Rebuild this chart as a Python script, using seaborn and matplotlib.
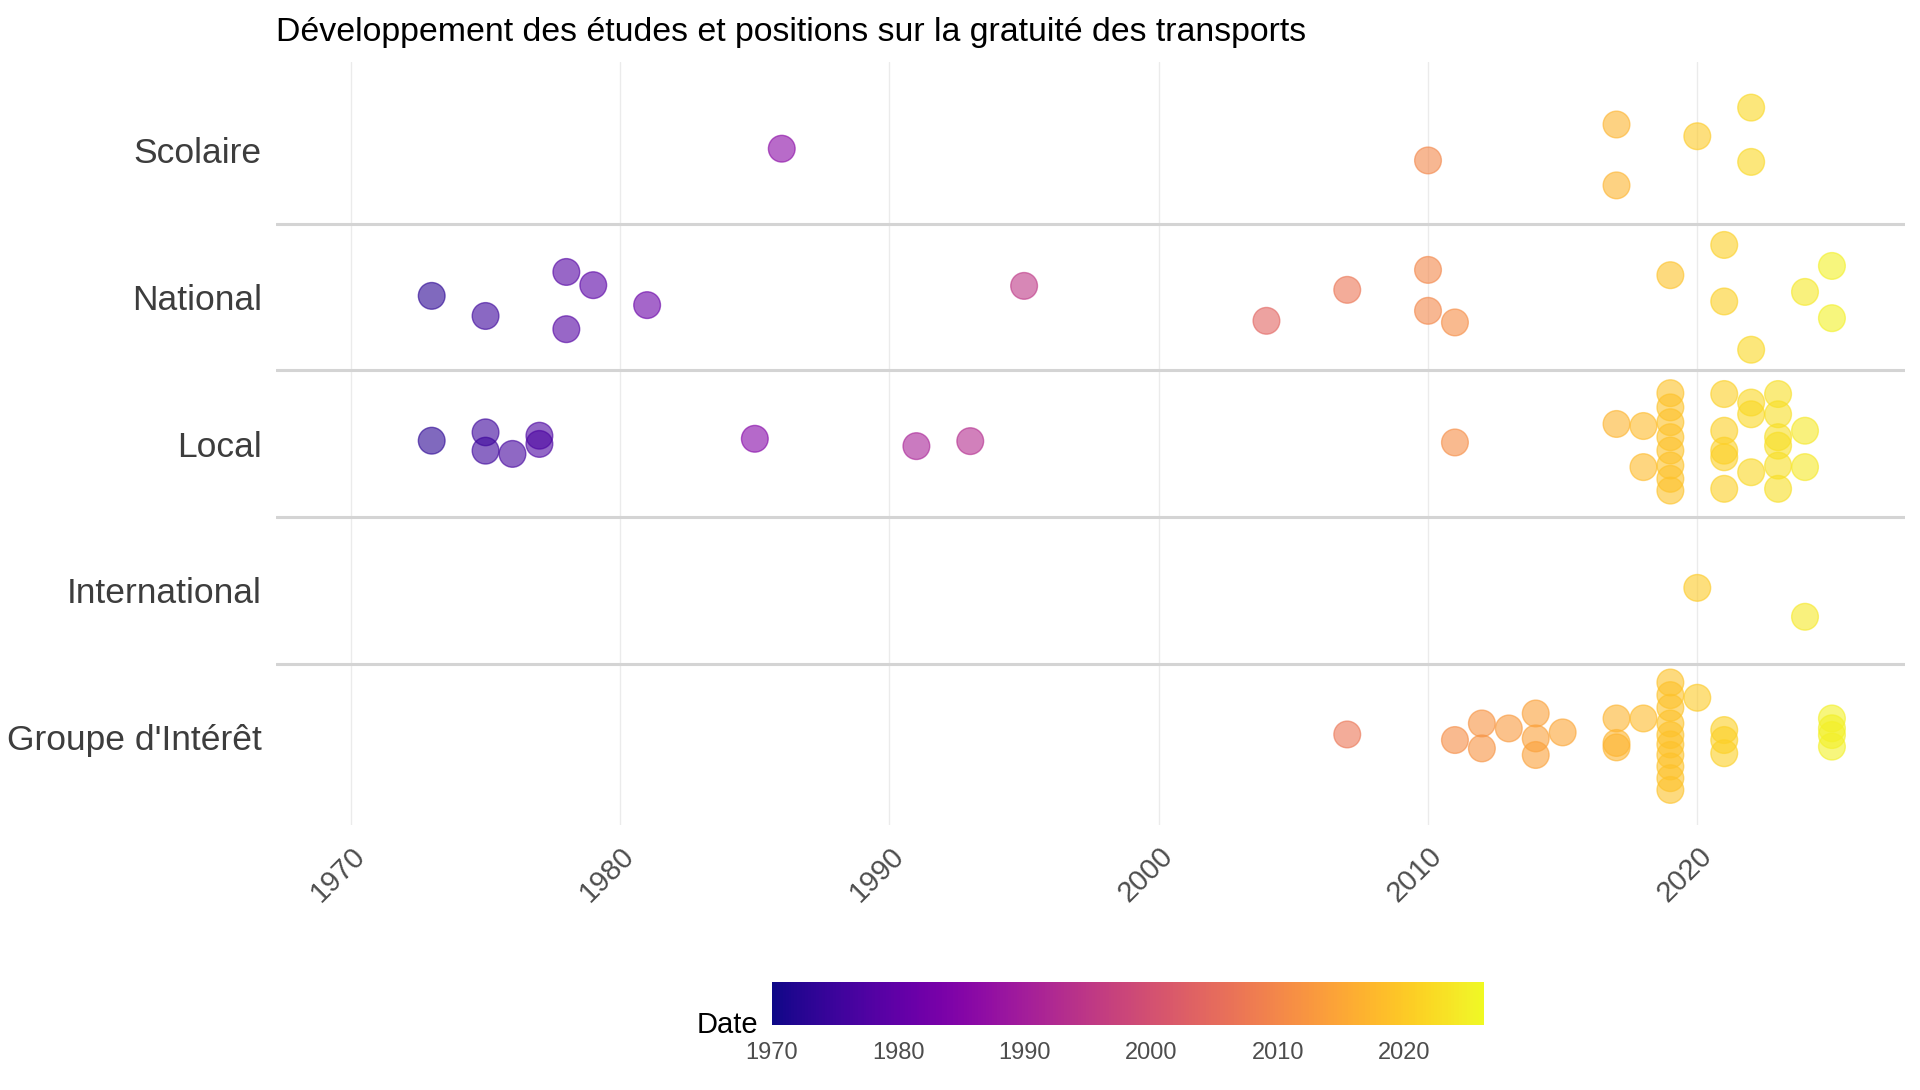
import numpy as np
import pandas as pd
import matplotlib
matplotlib.use("Agg")
import matplotlib.pyplot as plt
import seaborn as sns

# Categories, bottom to top
categories = ["Groupe d'Intérêt", "International", "Local", "National", "Scolaire"]

# Years and vertical jitter per category
scolaire_years = [1986, 2010, 2017, 2017, 2020, 2022, 2022]
scolaire_jitter = [0.01, -0.07, 0.175, -0.24, 0.095, 0.29, -0.08]

national_years = [1973, 1975, 1978, 1978, 1979, 1981, 1995, 2004, 2007, 2010,
                  2010, 2011, 2019, 2021, 2021, 2022, 2024, 2025, 2025]
national_jitter = [0.007, -0.13, 0.17, -0.22, 0.08, -0.056, 0.075, -0.163, 0.048, 0.184,
                   -0.095, -0.174, 0.148, 0.354, -0.031, -0.36, 0.034, 0.211, -0.145]

local_years = [1973, 1975, 1975, 1976, 1977, 1977, 1985, 1991, 1993, 2011,
               2017, 2018, 2018,
               2019, 2019, 2019, 2019, 2019, 2019, 2019, 2019,
               2021, 2021, 2021, 2021, 2021,
               2022, 2022, 2022,
               2023, 2023, 2023, 2023, 2023, 2023,
               2024, 2024]
local_jitter = [0.02, 0.077, -0.048, -0.07, 0.054, -0.002, 0.033, -0.017, 0.017, 0.008,
                0.134, 0.12, -0.16,
                0.344, 0.247, 0.146, 0.044, -0.047, -0.149, -0.24, -0.32,
                0.338, 0.088, -0.048, -0.093, -0.308,
                0.28, 0.2, -0.195,
                0.338, 0.2, 0.044, -0.014, -0.15, -0.308,
                0.088, -0.16]

international_years = [2020, 2024]
international_jitter = [0.017, -0.18]

groupe_years = [2007, 2011, 2012, 2012, 2013, 2014, 2014, 2014, 2015,
                2017, 2017, 2017, 2018,
                2019, 2019, 2019, 2019, 2019, 2019, 2019, 2019, 2019, 2019,
                2020, 2021, 2021, 2021,
                2025, 2025, 2025, 2025]
groupe_jitter = [0.018, -0.02, 0.093, -0.077, 0.059, 0.161, -0.009, -0.122, 0.032,
                 0.127, -0.04, -0.07, 0.127,
                 0.372, 0.286, 0.2, 0.093, 0.014, -0.05, -0.122, -0.2, -0.28, -0.36,
                 0.268, 0.048, -0.02, -0.11,
                 0.127, 0.06, 0.014, -0.065]

year_ticks = [1970, 1980, 1990, 2000, 2010, 2020]

frames = []
for cat, yrs, jit in [("Scolaire", scolaire_years, scolaire_jitter),
                      ("National", national_years, national_jitter),
                      ("Local", local_years, local_jitter),
                      ("International", international_years, international_jitter),
                      ("Groupe d'Intérêt", groupe_years, groupe_jitter)]:
    frames.append(pd.DataFrame({"categorie": cat, "annee": yrs, "jitter": jit}))
df = pd.concat(frames, ignore_index=True)
df["ypos"] = df["categorie"].map({c: i + 1 for i, c in enumerate(categories)}) + df["jitter"]

sns.set_style("white")
plt.rcParams['font.family'] = ['Liberation Sans', 'DejaVu Sans']

fig = plt.figure(figsize=(19.2, 10.9), dpi=100)
ax = fig.add_axes([0.1435, 0.243, 0.8485, 0.7])

# separators between rows
for yl in [1.5, 2.5, 3.5, 4.5]:
    ax.axhline(yl, color="#d4d4d4", linewidth=2.2, zorder=1)

vmin, vmax = 1970, 2026.3
sns.scatterplot(data=df, x="annee", y="ypos", hue="annee", palette="plasma",
                hue_norm=(vmin, vmax), s=370, alpha=0.6, edgecolor="face",
                linewidth=1.0, legend=False, ax=ax, zorder=3)

ax.set_xlim(1967.2, 2027.7)
ax.set_ylim(0.4, 5.6)
ax.set_xticks(year_ticks)
ax.set_xticklabels([str(y) for y in year_ticks], rotation=45, ha="right",
                   va="top", rotation_mode="anchor", fontsize=21, color="#4d4d4d")
ax.set_yticks(range(1, 6))
ax.set_yticklabels(categories, fontsize=25.5, color="#3d3d3d")
ax.tick_params(axis="y", length=0, pad=10)
ax.tick_params(axis="x", length=0, pad=12)
ax.grid(axis="x", color="#ebebeb", linewidth=1.0, zorder=0)
ax.grid(axis="y", visible=False)
ax.set_axisbelow(True)
for sp in ax.spines.values():
    sp.set_visible(False)
ax.set_xlabel("")
ax.set_ylabel("")

fig.text(0.1435, 0.97, "Développement des études et positions sur la gratuité des transports",
         fontsize=24.4, color="black", ha="left", va="center")

# colour bar
cax = fig.add_axes([0.402, 0.0596, 0.371, 0.0394])
sm = plt.cm.ScalarMappable(cmap="plasma", norm=plt.Normalize(vmin, vmax))
cb = fig.colorbar(sm, cax=cax, orientation="horizontal", ticks=year_ticks)
cb.outline.set_visible(False)
cax.tick_params(axis="x", direction="in", color="white", length=8, width=1.5,
                labelsize=17, labelcolor="#4d4d4d", pad=12, top=True)
fig.text(0.395, 0.047, "Date", fontsize=21, color="black", ha="right", va="bottom")

fig.savefig("out.png", dpi=100)
